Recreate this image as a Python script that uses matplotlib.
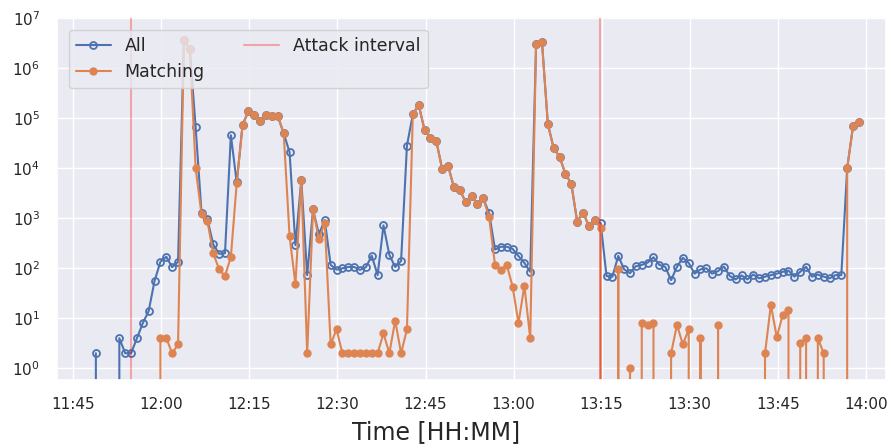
import matplotlib
matplotlib.use("Agg")
import matplotlib.pyplot as plt
import matplotlib.dates as mdates
import pandas as pd
import seaborn as sns

sns.set_theme(style="darkgrid")
plt.rcParams["font.family"] = ["DejaVu Sans"]

# Per-minute packet counts, first sample at 11:48:50
first_sample = "2023-05-10 11:48:50"
all_counts = [
    2, 0, 0, 0, 4, 2, 2, 4, 8, 14, 56, 135, 170, 105, 135,
    3.6e6, 2.4e6, 6.6e4, 1.3e3, 950, 300, 195, 200, 4.6e4, 5.2e3,
    7.5e4, 1.38e5, 1.15e5, 9e4, 1.18e5, 1.12e5, 1.1e5, 5e4, 2.1e4, 290,
    5.8e3, 73, 1.5e3, 480, 920, 117, 94, 100, 106, 106,
    93, 105, 178, 73, 720, 185, 106, 140, 2.85e4, 1.2e5,
    1.85e5, 5.8e4, 4e4, 3.5e4, 9.7e3, 1.12e4, 4.2e3, 3.7e3, 2.1e3, 2.75e3,
    1.95e3, 2.5e3, 1.26e3, 238, 270, 270, 245, 175, 128, 85,
    3.1e6, 3.4e6, 7.7e4, 2.5e4, 1.7e4, 7.7e3, 4.9e3, 860, 1.3e3, 700,
    940, 800, 70, 68, 177, 95, 80, 110, 117, 130,
    166, 117, 107, 58, 107, 162, 128, 78, 95, 100,
    78, 88, 108, 70, 60, 72, 60, 75, 63, 68,
    73, 78, 85, 90, 68, 85, 107, 68, 75, 68,
    63, 73, 73, 1e4, 7e4, 8.5e4,
]
matching_counts = [
    0, 0, 0, 0, 0, 0, 0, 0, 0, 0, 0, 4, 4, 2, 3,
    3.6e6, 2.4e6, 1.0e4, 1.2e3, 880, 200, 95, 70, 170, 5.1e3,
    7.5e4, 1.38e5, 1.15e5, 9e4, 1.18e5, 1.12e5, 1.1e5, 5e4, 440, 48,
    5.8e3, 2, 1.5e3, 380, 820, 3, 6, 2, 2, 2,
    2, 2, 2, 2, 5, 2, 9, 2, 6, 1.2e5,
    1.85e5, 5.8e4, 4e4, 3.5e4, 9.7e3, 1.12e4, 4.2e3, 3.7e3, 2.1e3, 2.75e3,
    1.95e3, 2.5e3, 1.05e3, 117, 94, 117, 43, 8, 45, 4,
    3.1e6, 3.4e6, 7.7e4, 2.5e4, 1.7e4, 7.7e3, 4.9e3, 860, 1.3e3, 700,
    940, 630, 0, 0, 95, 0, 1, 0, 8, 7.4,
    8, 0, 0, 2, 7.4, 3, 6, 0, 4, 0,
    0, 7.4, 0, 0, 0, 0, 0, 0, 0, 2,
    18.5, 4.2, 11.5, 14.5, 0, 3.2, 4, 0, 4, 2,
    0, 0, 0, 1e4, 7e4, 8.5e4,
]
attack_bounds = ["2023-05-10 11:54:47", "2023-05-10 13:14:44"]
view_start = "2023-05-10 11:42:10"
view_end = "2023-05-10 14:03:27"

times = pd.date_range(first_sample, periods=len(all_counts), freq="1min")
blue, orange = sns.color_palette("deep")[:2]

fig = plt.figure(figsize=(8.92, 4.45), dpi=100)
ax = fig.add_axes([0.0636, 0.1461, 0.9297, 0.8146])

ax.plot(times, all_counts, color=blue, lw=1.5, marker="o", ms=5,
        mfc="none", mew=1.3, label="All")
ax.plot(times, matching_counts, color=orange, lw=1.5, marker="o", ms=5,
        label="Matching")
for i, t in enumerate(attack_bounds):
    ax.axvline(pd.Timestamp(t), color="red", alpha=0.3, lw=1.5,
               label="Attack interval" if i == 0 else None)

ax.set_yscale("log")
ax.set_ylim(10 ** -0.234, 10 ** 7.016)
ax.set_xlim(pd.Timestamp(view_start), pd.Timestamp(view_end))
ax.xaxis.set_major_locator(mdates.MinuteLocator(byminute=[0, 15, 30, 45]))
ax.xaxis.set_major_formatter(mdates.DateFormatter("%H:%M"))
ax.tick_params(labelsize=11, pad=6)
ax.set_xlabel("Time [HH:MM]", fontsize=17, labelpad=6)
ax.xaxis.label.set_x(0.457)

ax.legend(loc="upper left", ncol=2, fontsize=12.5, columnspacing=2.3,
          borderaxespad=0.7)

fig.savefig("out.png", dpi=100)
